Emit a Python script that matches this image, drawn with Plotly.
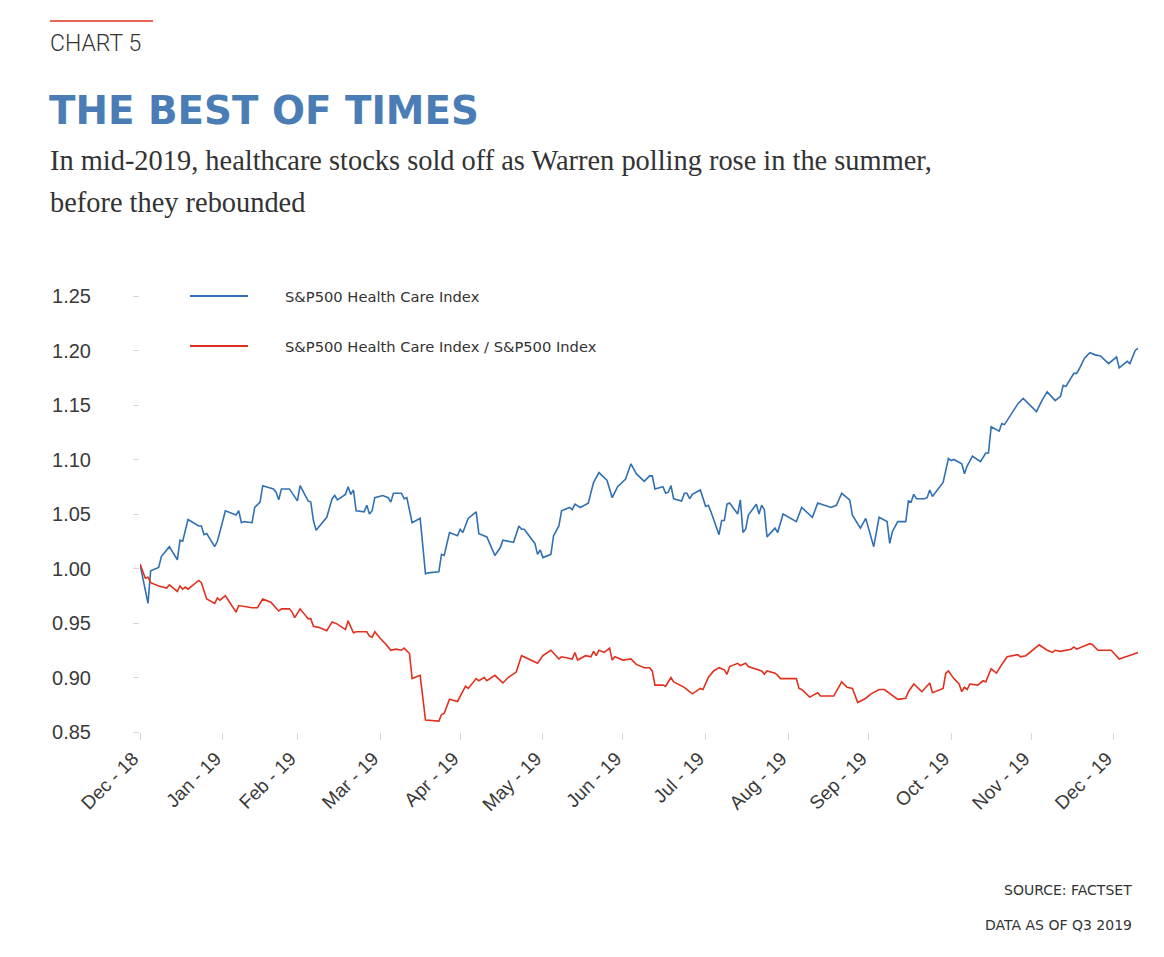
import plotly.graph_objects as go

# ---------------- data ----------------
hc_dates = [
    "2018-12-31", "2019-01-03", "2019-01-04", "2019-01-07", "2019-01-08", "2019-01-11", "2019-01-14",
    "2019-01-15", "2019-01-16", "2019-01-18", "2019-01-22", "2019-01-23", "2019-01-24", "2019-01-25",
    "2019-01-28", "2019-01-29", "2019-02-01", "2019-02-05", "2019-02-06", "2019-02-07", "2019-02-08",
    "2019-02-11", "2019-02-12", "2019-02-14", "2019-02-15", "2019-02-19", "2019-02-20", "2019-02-21",
    "2019-02-22", "2019-02-25", "2019-02-28", "2019-03-01", "2019-03-04", "2019-03-05", "2019-03-06",
    "2019-03-07", "2019-03-11", "2019-03-13", "2019-03-14", "2019-03-15", "2019-03-18", "2019-03-19",
    "2019-03-20", "2019-03-21", "2019-03-22", "2019-03-25", "2019-03-26", "2019-03-27", "2019-03-28",
    "2019-03-29", "2019-04-01", "2019-04-03", "2019-04-04", "2019-04-05", "2019-04-08", "2019-04-09",
    "2019-04-10", "2019-04-12", "2019-04-15", "2019-04-17", "2019-04-18", "2019-04-22", "2019-04-23",
    "2019-04-24", "2019-04-26", "2019-04-29", "2019-04-30", "2019-05-01", "2019-05-03", "2019-05-06",
    "2019-05-07", "2019-05-10", "2019-05-13", "2019-05-15", "2019-05-16", "2019-05-20", "2019-05-22",
    "2019-05-23", "2019-05-24", "2019-05-28", "2019-05-29", "2019-05-30", "2019-05-31", "2019-06-03",
    "2019-06-04", "2019-06-06", "2019-06-07", "2019-06-10", "2019-06-11", "2019-06-12", "2019-06-14",
    "2019-06-17", "2019-06-19", "2019-06-21", "2019-06-24", "2019-06-26", "2019-06-28", "2019-07-01",
    "2019-07-03", "2019-07-05", "2019-07-08", "2019-07-10", "2019-07-11", "2019-07-12", "2019-07-15",
    "2019-07-16", "2019-07-17", "2019-07-18", "2019-07-19", "2019-07-22", "2019-07-23", "2019-07-24",
    "2019-07-25", "2019-07-26", "2019-07-29", "2019-07-31", "2019-08-01", "2019-08-02", "2019-08-05",
    "2019-08-06", "2019-08-07", "2019-08-08", "2019-08-09", "2019-08-12", "2019-08-13", "2019-08-14",
    "2019-08-15", "2019-08-16", "2019-08-19", "2019-08-20", "2019-08-21", "2019-08-22", "2019-08-23",
    "2019-08-26", "2019-08-27", "2019-08-29", "2019-09-03", "2019-09-05", "2019-09-09", "2019-09-11",
    "2019-09-16", "2019-09-18", "2019-09-20", "2019-09-23", "2019-09-24", "2019-09-27", "2019-09-29",
    "2019-10-02", "2019-10-04", "2019-10-07", "2019-10-08", "2019-10-09", "2019-10-11", "2019-10-14",
    "2019-10-15", "2019-10-16", "2019-10-17", "2019-10-18", "2019-10-21", "2019-10-22", "2019-10-23",
    "2019-10-24", "2019-10-28", "2019-10-30", "2019-10-31", "2019-11-01", "2019-11-04", "2019-11-05",
    "2019-11-06", "2019-11-08", "2019-11-11", "2019-11-13", "2019-11-14", "2019-11-15", "2019-11-18",
    "2019-11-19", "2019-11-20", "2019-11-25", "2019-11-27", "2019-12-02", "2019-12-04", "2019-12-06",
    "2019-12-09", "2019-12-11", "2019-12-12", "2019-12-13", "2019-12-16", "2019-12-17", "2019-12-18",
    "2019-12-20", "2019-12-22", "2019-12-24", "2019-12-26", "2019-12-29", "2020-01-01", "2020-01-02",
    "2020-01-05", "2020-01-06", "2020-01-08", "2020-01-09",
]
hc_values = [
    1.004, 0.968, 0.998, 1.001, 1.011, 1.020, 1.008,
    1.026, 1.025, 1.045, 1.039, 1.039, 1.031, 1.032,
    1.020, 1.025, 1.053, 1.049, 1.053, 1.042, 1.043,
    1.042, 1.056, 1.061, 1.076, 1.073, 1.070, 1.063,
    1.073, 1.073, 1.062, 1.076, 1.062, 1.061, 1.044,
    1.035, 1.047, 1.064, 1.067, 1.063, 1.068, 1.075,
    1.068, 1.072, 1.053, 1.052, 1.058, 1.050, 1.053,
    1.065, 1.067, 1.065, 1.061, 1.069, 1.069, 1.064,
    1.065, 1.042, 1.046, 0.995, 0.996, 0.997, 1.013,
    1.012, 1.033, 1.030, 1.036, 1.033, 1.046, 1.052,
    1.032, 1.029, 1.012, 1.019, 1.026, 1.024, 1.039,
    1.036, 1.036, 1.023, 1.013, 1.017, 1.010, 1.013,
    1.030, 1.039, 1.053, 1.056, 1.054, 1.059, 1.056,
    1.060, 1.079, 1.088, 1.081, 1.065, 1.075, 1.082,
    1.096, 1.087, 1.080, 1.085, 1.085, 1.073, 1.075,
    1.069, 1.070, 1.076, 1.064, 1.062, 1.069, 1.069,
    1.064, 1.068, 1.072, 1.057, 1.058, 1.052, 1.031,
    1.044, 1.044, 1.059, 1.060, 1.050, 1.063, 1.033,
    1.036, 1.049, 1.059, 1.050, 1.058, 1.054, 1.029,
    1.037, 1.033, 1.050, 1.043, 1.056, 1.047, 1.060,
    1.056, 1.058, 1.069, 1.063, 1.049, 1.037, 1.046,
    1.020, 1.047, 1.043, 1.023, 1.034, 1.043, 1.043,
    1.062, 1.061, 1.068, 1.064, 1.064, 1.065, 1.072,
    1.066, 1.079, 1.101, 1.099, 1.100, 1.096, 1.087,
    1.094, 1.103, 1.098, 1.106, 1.106, 1.130, 1.126,
    1.133, 1.132, 1.151, 1.156, 1.144, 1.154, 1.162,
    1.154, 1.158, 1.168, 1.167, 1.179, 1.179, 1.183,
    1.193, 1.198, 1.196, 1.195, 1.188, 1.194, 1.184,
    1.190, 1.188, 1.200, 1.202,
]

rel_dates = [
    "2018-12-31", "2019-01-02", "2019-01-03", "2019-01-04", "2019-01-07", "2019-01-10", "2019-01-11",
    "2019-01-14", "2019-01-15", "2019-01-16", "2019-01-17", "2019-01-18", "2019-01-22", "2019-01-23",
    "2019-01-25", "2019-01-28", "2019-01-29", "2019-01-30", "2019-02-01", "2019-02-03", "2019-02-05",
    "2019-02-06", "2019-02-08", "2019-02-11", "2019-02-13", "2019-02-15", "2019-02-18", "2019-02-20",
    "2019-02-21", "2019-02-22", "2019-02-25", "2019-02-26", "2019-02-27", "2019-03-01", "2019-03-04",
    "2019-03-05", "2019-03-06", "2019-03-08", "2019-03-11", "2019-03-13", "2019-03-15", "2019-03-18",
    "2019-03-19", "2019-03-21", "2019-03-22", "2019-03-26", "2019-03-27", "2019-03-28", "2019-03-29",
    "2019-03-31", "2019-04-02", "2019-04-04", "2019-04-06", "2019-04-08", "2019-04-09", "2019-04-11",
    "2019-04-12", "2019-04-15", "2019-04-17", "2019-04-22", "2019-04-23", "2019-04-24", "2019-04-26",
    "2019-04-29", "2019-05-02", "2019-05-03", "2019-05-06", "2019-05-07", "2019-05-09", "2019-05-10",
    "2019-05-13", "2019-05-16", "2019-05-18", "2019-05-21", "2019-05-23", "2019-05-29", "2019-05-31",
    "2019-06-03", "2019-06-06", "2019-06-07", "2019-06-11", "2019-06-12", "2019-06-13", "2019-06-16",
    "2019-06-18", "2019-06-19", "2019-06-20", "2019-06-21", "2019-06-23", "2019-06-25", "2019-06-26",
    "2019-06-27", "2019-06-30", "2019-07-03", "2019-07-05", "2019-07-08", "2019-07-10", "2019-07-11",
    "2019-07-12", "2019-07-15", "2019-07-16", "2019-07-18", "2019-07-19", "2019-07-23", "2019-07-26",
    "2019-07-29", "2019-07-30", "2019-08-01", "2019-08-03", "2019-08-05", "2019-08-07", "2019-08-08",
    "2019-08-09", "2019-08-12", "2019-08-13", "2019-08-15", "2019-08-16", "2019-08-21", "2019-08-22",
    "2019-08-23", "2019-08-26", "2019-08-27", "2019-08-28", "2019-09-03", "2019-09-04", "2019-09-05",
    "2019-09-08", "2019-09-11", "2019-09-12", "2019-09-17", "2019-09-20", "2019-09-22", "2019-09-24",
    "2019-09-26", "2019-09-29", "2019-10-01", "2019-10-04", "2019-10-06", "2019-10-11", "2019-10-14",
    "2019-10-15", "2019-10-17", "2019-10-20", "2019-10-23", "2019-10-24", "2019-10-28", "2019-10-29",
    "2019-10-30", "2019-11-01", "2019-11-03", "2019-11-04", "2019-11-05", "2019-11-06", "2019-11-07",
    "2019-11-10", "2019-11-12", "2019-11-13", "2019-11-15", "2019-11-17", "2019-11-19", "2019-11-21",
    "2019-11-25", "2019-11-26", "2019-11-28", "2019-11-30", "2019-12-03", "2019-12-06", "2019-12-08",
    "2019-12-09", "2019-12-11", "2019-12-15", "2019-12-16", "2019-12-17", "2019-12-19", "2019-12-22",
    "2019-12-23", "2019-12-25", "2019-12-30", "2020-01-02", "2020-01-07", "2020-01-09",
]
rel_values = [
    1.004, 0.991, 0.992, 0.987, 0.984, 0.982, 0.985,
    0.979, 0.984, 0.981, 0.983, 0.981, 0.989, 0.987,
    0.972, 0.968, 0.973, 0.971, 0.975, 0.968, 0.960,
    0.966, 0.965, 0.964, 0.964, 0.972, 0.969, 0.964,
    0.961, 0.963, 0.963, 0.960, 0.955, 0.963, 0.954,
    0.954, 0.947, 0.946, 0.943, 0.951, 0.949, 0.944,
    0.952, 0.941, 0.942, 0.942, 0.938, 0.937, 0.942,
    0.936, 0.931, 0.925, 0.926, 0.925, 0.927, 0.922,
    0.899, 0.902, 0.861, 0.860, 0.866, 0.867, 0.880,
    0.878, 0.892, 0.890, 0.899, 0.897, 0.900, 0.897,
    0.902, 0.895, 0.900, 0.905, 0.920, 0.913, 0.920,
    0.925, 0.917, 0.919, 0.917, 0.923, 0.916, 0.920,
    0.919, 0.924, 0.920, 0.925, 0.923, 0.927, 0.916,
    0.919, 0.916, 0.917, 0.912, 0.909, 0.909, 0.906,
    0.893, 0.893, 0.892, 0.900, 0.896, 0.891, 0.885,
    0.890, 0.889, 0.900, 0.906, 0.909, 0.907, 0.903,
    0.910, 0.913, 0.911, 0.913, 0.910, 0.906, 0.903,
    0.906, 0.904, 0.902, 0.899, 0.899, 0.890, 0.889,
    0.882, 0.886, 0.883, 0.883, 0.896, 0.891, 0.890,
    0.877, 0.881, 0.885, 0.889, 0.889, 0.880, 0.881,
    0.887, 0.894, 0.887, 0.895, 0.886, 0.890, 0.904,
    0.906, 0.899, 0.894, 0.887, 0.891, 0.889, 0.894,
    0.893, 0.897, 0.896, 0.908, 0.904, 0.912, 0.919,
    0.921, 0.919, 0.920, 0.924, 0.930, 0.925, 0.923,
    0.925, 0.924, 0.926, 0.928, 0.926, 0.928, 0.931,
    0.930, 0.925, 0.925, 0.917, 0.921, 0.923,
]

tick_dates = [
    "2018-12-31", "2019-01-31", "2019-02-28", "2019-03-31", "2019-04-30", "2019-05-31", "2019-06-30",
    "2019-07-31", "2019-08-31", "2019-09-30", "2019-10-31", "2019-11-30", "2019-12-31",
]
tick_labels = [
    "Dec - 18", "Jan - 19", "Feb - 19", "Mar - 19", "Apr - 19", "May - 19", "Jun - 19",
    "Jul - 19", "Aug - 19", "Sep - 19", "Oct - 19", "Nov - 19", "Dec - 19",
]
series_names = ["S&P500 Health Care Index", "S&P500 Health Care Index / S&P500 Index"]
y_ticks = [0.85, 0.90, 0.95, 1.00, 1.05, 1.10, 1.15, 1.20, 1.25]

BLUE = "#3170b2"
RED = "#e2301f"
TEXT = "#333333"

# the page body adds an 8px margin, so the figure is 16px smaller than the window
OFF = 8
W, H = 1164 - 2 * OFF, 957 - 2 * OFF
L, R, T, B = 132, 16, 288, 217
PW, PH = W - L - R, H - T - B


def px(x):  # page pixel -> paper x
    return (x - OFF - L) / PW


def py(y):  # page pixel -> paper y
    return (H - B - (y - OFF)) / PH


fig = go.Figure()
fig.add_trace(go.Scatter(x=hc_dates, y=hc_values, mode="lines", name=series_names[0],
                         line=dict(color=BLUE, width=1.6), showlegend=False))
fig.add_trace(go.Scatter(x=rel_dates, y=rel_values, mode="lines", name=series_names[1],
                         line=dict(color=RED, width=1.6), showlegend=False))

shapes = [
    dict(type="line", xref="paper", yref="paper", x0=px(50), x1=px(153), y0=py(21), y1=py(21),
         line=dict(color=RED, width=1.5)),
    dict(type="line", xref="paper", yref="paper", x0=px(190), x1=px(248), y0=py(296), y1=py(296),
         line=dict(color=BLUE, width=2)),
    dict(type="line", xref="paper", yref="paper", x0=px(190), x1=px(248), y0=py(346), y1=py(346),
         line=dict(color=RED, width=2)),
]


def ann(text, x, y, size, family, color=TEXT, xanchor="left", weight=None):
    f = dict(size=size, family=family, color=color)
    if weight:
        f["weight"] = weight
    return dict(text=text, xref="paper", yref="paper", x=px(x), y=py(y), xanchor=xanchor,
                yanchor="middle", showarrow=False, font=f)


annotations = [
    ann("CHART 5", 48, 43, 23, "Roboto", weight=300),
    ann("THE BEST OF TIMES", 47, 111, 38.8, "DejaVu Sans", color="#4a7db5", weight="bold"),
    ann("In mid-2019, healthcare stocks sold off as Warren polling rose in the summer,", 48, 160, 28.4,
        "Liberation Serif"),
    ann("before they rebounded", 48, 202, 28.4, "Liberation Serif"),
    ann(series_names[0], 283, 296, 14.7, "DejaVu Sans"),
    ann(series_names[1], 283, 346, 14.7, "DejaVu Sans"),
    ann("SOURCE: FACTSET", 1134, 890, 14, "DejaVu Sans", xanchor="right"),
    ann("DATA AS OF Q3 2019", 1134, 925, 14, "DejaVu Sans", xanchor="right"),
]

fig.update_layout(
    width=W, height=H,
    margin=dict(l=L, r=R, t=T, b=B),
    paper_bgcolor="white", plot_bgcolor="white",
    showlegend=False,
    shapes=shapes, annotations=annotations,
    xaxis=dict(type="date", range=["2018-12-31", "2020-01-09 19:00"],
               tickvals=tick_dates, ticktext=tick_labels, tickangle=-45,
               ticks="outside", ticklen=7, tickcolor="#d8d8d8", tickwidth=1,
               ticklabelshift=-7,
               showgrid=False, zeroline=False, showline=False,
               tickfont=dict(size=19, family="Liberation Sans", color="#3a3a3a")),
    yaxis=dict(range=[0.85, 1.25], tickvals=y_ticks, tickformat=".2f",
               ticks="outside", ticklen=6, tickcolor="#d8d8d8", tickwidth=1,
               showgrid=False, zeroline=False, showline=False, ticklabelstandoff=38,
               tickfont=dict(size=20, family="Liberation Sans", color="#3a3a3a")),
)

fig.write_html("out.html")
